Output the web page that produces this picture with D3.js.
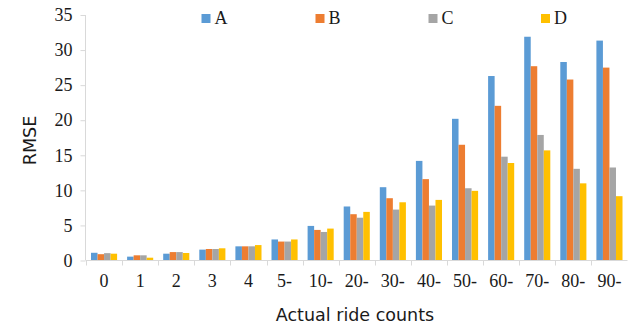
<!DOCTYPE html>
<html><head><meta charset="utf-8">
<script src="https://cdn.jsdelivr.net/npm/d3@7"></script>
<style>body{margin:0;background:#fff}svg{display:block}</style>
</head><body>
<script>
const categories = ["0","1","2","3","4","5-","10-","20-","30-","40-","50-","60-","70-","80-","90-"];
const seriesNames = ["A","B","C","D"];
const valuesA = [1.1,0.55,0.97,1.55,2.02,3.0,4.93,7.7,10.45,14.2,20.2,26.3,31.9,28.3,31.35];
const valuesB = [0.9,0.74,1.2,1.64,2.02,2.7,4.36,6.6,8.88,11.6,16.5,22.05,27.7,25.8,27.5];
const valuesC = [1.05,0.74,1.2,1.64,2.02,2.7,4.07,6.1,7.26,7.83,10.3,14.8,17.9,13.07,13.26];
const valuesD = [0.97,0.4,1.07,1.74,2.2,3.0,4.55,6.93,8.3,8.64,9.93,13.9,15.7,11.0,9.17];
const yTicks = [0,5,10,15,20,25,30,35];
const colors = ["#5B9BD5","#ED7D31","#A5A5A5","#FFC000"];
const series = [valuesA,valuesB,valuesC,valuesD];

const W=628,H=323;
const svg=d3.select("body").append("svg").attr("width",W).attr("height",H);
const x=d3.scaleBand().domain(categories).range([86,627.5]).padding(0);
const y=d3.scaleLinear().domain([0,35]).range([260.5,15]);
const inner=d3.scaleBand().domain(seriesNames).range([5,x.bandwidth()-5]).padding(0);
const axisColor="#d9d9d9";
const serif="'Liberation Serif','Times New Roman',serif";
const sans="'DejaVu Sans',Verdana,sans-serif";

// bars
seriesNames.forEach((s,i)=>{
  svg.append("g").selectAll("rect").data(series[i]).join("rect")
    .attr("x",(d,j)=>x(categories[j])+inner(s))
    .attr("width",inner.bandwidth())
    .attr("y",d=>y(d))
    .attr("height",d=>y(0)-y(d))
    .attr("fill",colors[i]);
});

// y axis
const ya=svg.append("g").attr("transform","translate(85.5,0)")
  .call(d3.axisLeft(y).tickValues(yTicks).tickSize(5).tickPadding(8));
ya.select(".domain").attr("stroke",axisColor).attr("d","M0,"+y(35)+"V"+y(0));
ya.selectAll(".tick line").attr("stroke",axisColor);
ya.selectAll("text").attr("font-family",serif).attr("font-size",18).attr("fill","#1a1a1a");

// x axis
const xa=svg.append("g").attr("transform","translate(0,"+y(0)+")")
  .call(d3.axisBottom(x).tickSize(0).tickPadding(14));
xa.select(".domain").attr("stroke",axisColor).attr("d","M86,0H627.5");
xa.selectAll("text").attr("font-family",serif).attr("font-size",18).attr("fill","#1a1a1a");
// boundary ticks between categories
const bounds=categories.map(c=>x(c)).concat([x(categories[categories.length-1])+x.bandwidth()]);
xa.append("g").selectAll("line").data(bounds).join("line")
  .attr("x1",d=>Math.round(d)+0.5).attr("x2",d=>Math.round(d)+0.5)
  .attr("y1",0).attr("y2",5).attr("stroke",axisColor);

// titles
svg.append("text").attr("transform","translate(35.5,140.5) rotate(-90)")
  .attr("text-anchor","middle").attr("font-family",sans).attr("font-size",17.5)
  .attr("fill","#1a1a1a").text("RMSE");
svg.append("text").attr("x",355).attr("y",320.5).attr("text-anchor","middle")
  .attr("font-family",sans).attr("font-size",17.5).attr("fill","#1a1a1a").text("Actual ride counts");

// legend
const legX=[201.5,315.5,428.5,541];
const lg=svg.append("g").selectAll("g").data(seriesNames).join("g")
  .attr("transform",(d,i)=>"translate("+legX[i]+",14)");
lg.append("rect").attr("width",9).attr("height",9).attr("fill",(d,i)=>colors[i]);
lg.append("text").attr("x",13).attr("y",9.5).attr("font-family",serif).attr("font-size",18)
  .attr("fill","#1a1a1a").text(d=>d);
</script>
</body></html>
